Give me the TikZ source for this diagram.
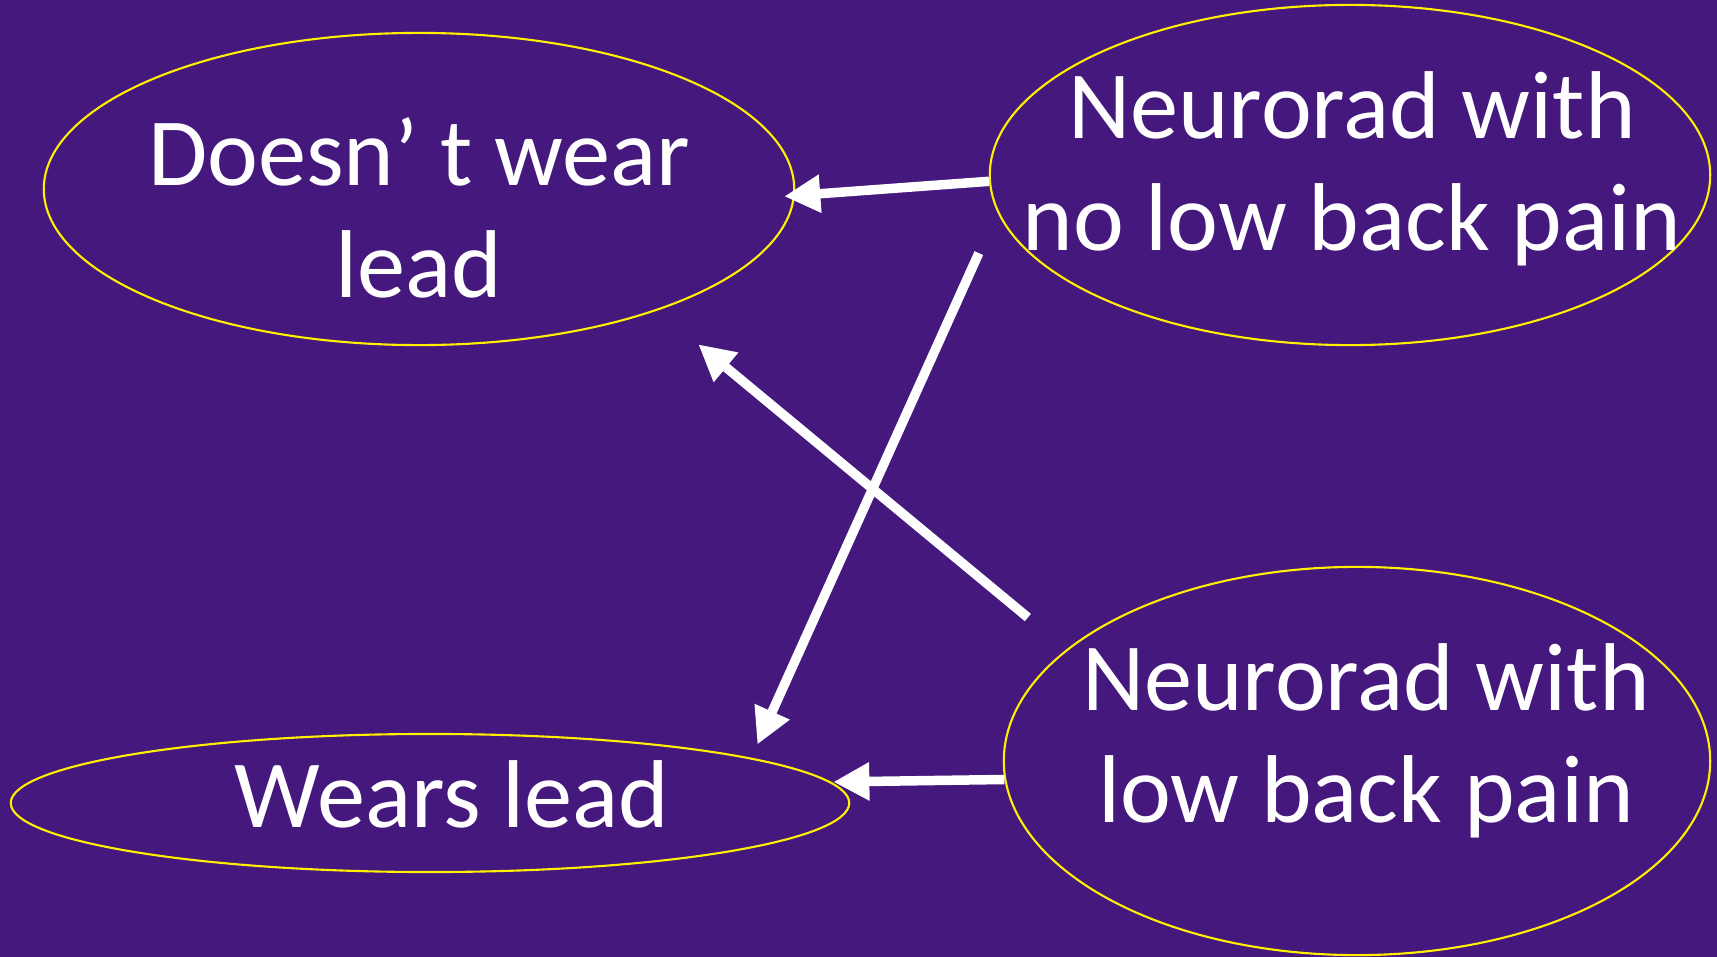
\documentclass[tikz,border=0pt]{standalone}
\usepackage{fontspec}
\setmainfont{Carlito}
\usetikzlibrary{shapes.geometric,arrows.meta}
\definecolor{bgpurple}{RGB}{68,24,124}
\definecolor{rim}{RGB}{255,240,0}
\begin{document}
\begin{tikzpicture}[x=0.01cm, y=-0.01cm,
  blob/.style={ellipse, draw=rim, line width=0.6pt, inner sep=0pt},
  words/.style={text=white, align=center, inner sep=0pt, font=\fontsize{27.4}{32}\selectfont},
  arr/.style={draw=white, line width=2.7pt, -{Triangle[length=0.36cm, width=0.36cm]}}]
\fill[bgpurple] (0,0) rectangle (1717,957);
\useasboundingbox (0,0) rectangle (1717,957);
% the four groups
\node[blob, minimum width=7.5cm, minimum height=3.12cm] (dont) at (419,189) {};
\node[blob, minimum width=7.2cm, minimum height=3.4cm] (nolbp) at (1350,175) {};
\node[blob, minimum width=8.38cm, minimum height=1.38cm] (wears) at (430,803) {};
\node[blob, minimum width=7.06cm, minimum height=3.88cm] (lbp) at (1357,761) {};
\node[words] (dont-t) at ([shift={(0,19)}]dont) {Doesn’ t wear\\lead};
\node[words] (nolbp-t) at ([shift={(2,-6)}]nolbp) {Neurorad with\\no low back pain};
\node[words] (wears-t) at ([shift={(22,-9)}]wears) {Wears lead};
\node[words] (lbp-t) at ([shift={(9,-20)}]lbp) {Neurorad with\\low back pain};
% arrows
\draw[arr, shorten >=-0.107cm] (nolbp.181.4) -- (dont.359.5);
\draw[arr, shorten <=0.45cm, shorten >=0.146cm] (nolbp.186.7) -- (wears.8);
\draw[arr, shorten <=0.50cm, shorten >=0.53cm] (lbp.159.85) -- (dont.333.7);
\draw[arr, shorten >=0.024cm] (lbp.183) -- (wears.3.3);
\end{tikzpicture}
\end{document}
